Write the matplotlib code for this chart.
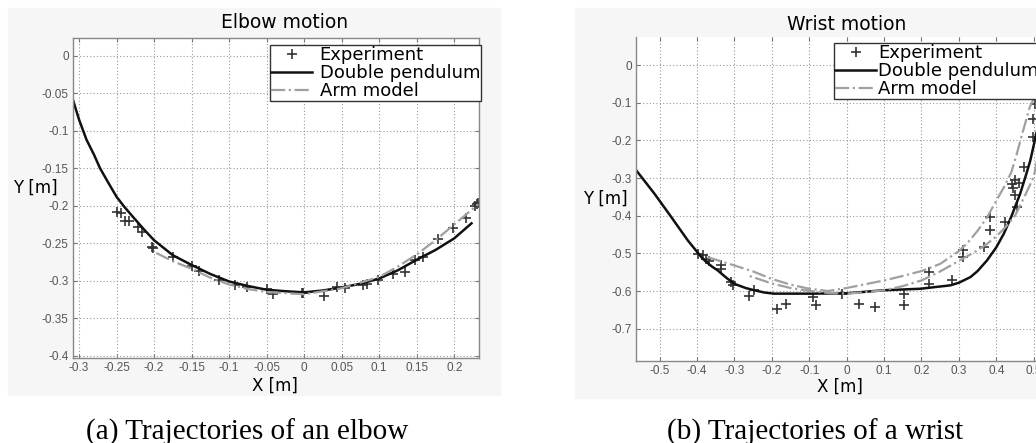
import numpy as np
import matplotlib.pyplot as plt
from matplotlib.patches import Rectangle

# --- Elbow data ---
elbow_pend_x = [-0.308, -0.300, -0.290, -0.280, -0.272, -0.260, -0.250, -0.240, -0.228, -0.214,
                -0.200, -0.175, -0.150, -0.125, -0.100, -0.075, -0.050, -0.025, 0.000, 0.025,
                0.050, 0.075, 0.100, 0.125, 0.150, 0.175, 0.200, 0.223]
elbow_pend_y = [-0.059, -0.085, -0.112, -0.132, -0.150, -0.171, -0.188, -0.201, -0.215, -0.231,
                -0.246, -0.266, -0.279, -0.291, -0.301, -0.307, -0.312, -0.314, -0.3155, -0.313,
                -0.309, -0.304, -0.297, -0.286, -0.272, -0.259, -0.2435, -0.2235]
elbow_arm_x = [-0.197, -0.175, -0.150, -0.125, -0.100, -0.075, -0.050, 0.000, 0.050, 0.100,
               0.125, 0.150, 0.175, 0.200, 0.232]
elbow_arm_y = [-0.263, -0.274, -0.284, -0.296, -0.305, -0.311, -0.315, -0.318, -0.310, -0.295,
               -0.281, -0.265, -0.246, -0.225, -0.198]
elbow_exp_x = [-0.250, -0.244, -0.239, -0.234, -0.221, -0.216, -0.203, -0.201, -0.175,
               -0.150, -0.140, -0.114, -0.092, -0.076, -0.050, -0.041, -0.003, -0.001,
               0.026, 0.044, 0.055, 0.079, 0.084, 0.099, 0.119, 0.135, 0.148, 0.159,
               0.179, 0.198, 0.216, 0.228, 0.231, 0.232]
elbow_exp_y = [-0.208, -0.210, -0.221, -0.221, -0.229, -0.235, -0.255, -0.257, -0.268,
               -0.281, -0.287, -0.299, -0.306, -0.308, -0.311, -0.318, -0.317, -0.316,
               -0.320, -0.309, -0.310, -0.306, -0.304, -0.299, -0.291, -0.288, -0.272,
               -0.269, -0.245, -0.230, -0.217, -0.201, -0.198, -0.196]

# --- Wrist data ---
wrist_pend_x = [-0.561, -0.514, -0.469, -0.425, -0.385, -0.360, -0.345, -0.320, -0.300, -0.270,
                -0.247, -0.220, -0.194, -0.096, 0.002, 0.099, 0.197, 0.277, 0.300, 0.331,
                0.350, 0.375, 0.400, 0.420, 0.440, 0.464, 0.480, 0.491, 0.507, 0.525]
wrist_pend_y = [-0.281, -0.341, -0.403, -0.465, -0.514, -0.535, -0.545, -0.566, -0.581, -0.592,
                -0.598, -0.604, -0.607, -0.607, -0.606, -0.598, -0.594, -0.585, -0.578, -0.563,
                -0.547, -0.519, -0.484, -0.448, -0.403, -0.341, -0.290, -0.253, -0.182, -0.110]
wrist_arm_x = [-0.372, -0.300, -0.250, -0.200, -0.150, -0.100, -0.050, 0.000, 0.050, 0.100,
               0.150, 0.200, 0.250, 0.300, 0.325, 0.350, 0.375, 0.400, 0.420, 0.440, 0.455,
               0.470, 0.490, 0.505, 0.520, 0.500, 0.475, 0.450, 0.425, 0.400, 0.375, 0.350,
               0.300, 0.250, 0.200, 0.150, 0.100, 0.050, 0.000, -0.050, -0.100, -0.150,
               -0.200, -0.260]
wrist_arm_y = [-0.510, -0.532, -0.548, -0.568, -0.583, -0.594, -0.600, -0.592, -0.582, -0.572,
               -0.560, -0.547, -0.528, -0.494, -0.470, -0.440, -0.405, -0.360, -0.325, -0.285,
               -0.235, -0.180, -0.110, -0.080, -0.200, -0.297, -0.350, -0.400, -0.430, -0.455,
               -0.475, -0.492, -0.520, -0.548, -0.572, -0.587, -0.598, -0.603, -0.607, -0.605,
               -0.600, -0.592, -0.580, -0.560]
wrist_exp_x = [-0.398, -0.385, -0.376, -0.367, -0.336, -0.336, -0.309, -0.305, -0.260,
               -0.247, -0.185, -0.163, -0.091, -0.083, -0.012, 0.033, 0.077, 0.153, 0.153,
               0.219, 0.219, 0.282, 0.311, 0.311, 0.366, 0.384, 0.384, 0.424, 0.442, 0.445,
               0.451, 0.451, 0.455, 0.460, 0.473, 0.499, 0.499, 0.504]
wrist_exp_y = [-0.501, -0.505, -0.514, -0.519, -0.532, -0.541, -0.576, -0.585, -0.612,
               -0.598, -0.647, -0.634, -0.616, -0.636, -0.607, -0.634, -0.643, -0.607, -0.638,
               -0.550, -0.581, -0.572, -0.492, -0.510, -0.483, -0.403, -0.439, -0.417, -0.315,
               -0.325, -0.306, -0.346, -0.377, -0.312, -0.270, -0.191, -0.142, -0.102]

elbow_xticks = [-0.3, -0.25, -0.2, -0.15, -0.1, -0.05, 0, 0.05, 0.1, 0.15, 0.2]
elbow_xlabels = ['-0.3', '-0.25', '-0.2', '-0.15', '-0.1', '-0.05', '0', '0.05', '0.1', '0.15', '0.2']
elbow_yticks = [0, -0.05, -0.1, -0.15, -0.2, -0.25, -0.3, -0.35, -0.4]
elbow_ylabels = ['0', '-0.05', '-0.1', '-0.15', '-0.2', '-0.25', '-0.3', '-0.35', '-0.4']
wrist_xticks = [-0.5, -0.4, -0.3, -0.2, -0.1, 0, 0.1, 0.2, 0.3, 0.4, 0.5]
wrist_xlabels = ['-0.5', '-0.4', '-0.3', '-0.2', '-0.1', '0', '0.1', '0.2', '0.3', '0.4', '0.5']
wrist_yticks = [0, -0.1, -0.2, -0.3, -0.4, -0.5, -0.6, -0.7]
wrist_ylabels = ['0', '-0.1', '-0.2', '-0.3', '-0.4', '-0.5', '-0.6', '-0.7']

W, H = 1036, 443
fig = plt.figure(figsize=(W / 100, H / 100), dpi=100)

# light panels behind each screenshot
fig.patches.append(Rectangle((8 / W, 1 - 395 / H), 492 / W, 387 / H, transform=fig.transFigure,
                             color='#f6f6f6', zorder=-10))
fig.patches.append(Rectangle((575 / W, 1 - 398 / H), 461 / W, 390 / H, transform=fig.transFigure,
                             color='#f6f6f6', zorder=-10))


def px_rect(x0, y0, x1, y1):
    return [x0 / W, 1 - y1 / H, (x1 - x0) / W, (y1 - y0) / H]


def style_axes(ax, xt, xl, yt, yl):
    ax.set_xticks(xt)
    ax.set_xticklabels(xl)
    ax.set_yticks(yt)
    ax.set_yticklabels(yl)
    ax.grid(True, linestyle=(0, (1, 2)), color='#999999', linewidth=0.8)
    ax.tick_params(direction='in', length=3, color='#777777', labelcolor='#555555',
                   labelsize=8.5, top=True, right=True, pad=3)
    for lab in ax.get_xticklabels() + ax.get_yticklabels():
        lab.set_fontfamily('Liberation Sans')
    for s in ax.spines.values():
        s.set_color('#888888')
        s.set_linewidth(1.0)


# ---- Elbow ----
ax1 = fig.add_axes(px_rect(73, 38, 479, 358))
ax1.set_facecolor('white')
ax1.plot(elbow_exp_x, elbow_exp_y, '+', color='#333333', ms=7, mew=1.2, label='Experiment')
ax1.plot(elbow_pend_x, elbow_pend_y, '-', color='#111111', lw=1.8, label='Double pendulum')
ax1.plot(elbow_arm_x, elbow_arm_y, '-.', color='#a0a0a0', lw=1.6, label='Arm model')
ax1.set_xlim(-0.308, 0.233)
ax1.set_ylim(-0.403, 0.0236)
style_axes(ax1, elbow_xticks, elbow_xlabels, elbow_yticks, elbow_ylabels)
leg1 = ax1.legend(loc='upper left', bbox_to_anchor=(270 / W, 1 - 45 / H),
                  bbox_transform=fig.transFigure, fontsize=13, fancybox=False,
                  framealpha=1, edgecolor='#333333', borderpad=0.05, labelspacing=0.0,
                  handlelength=2.3, handletextpad=0.4, borderaxespad=0)
leg1.get_frame().set_linewidth(1.0)

# ---- Wrist ----
ax2 = fig.add_axes(px_rect(636, 37, 1058, 361))
ax2.set_facecolor('white')
ax2.plot(wrist_exp_x, wrist_exp_y, '+', color='#333333', ms=7, mew=1.2, label='Experiment')
ax2.plot(wrist_pend_x, wrist_pend_y, '-', color='#111111', lw=1.8, label='Double pendulum')
ax2.plot(wrist_arm_x, wrist_arm_y, '-.', color='#a0a0a0', lw=1.6, label='Arm model')
ax2.set_xlim(-0.563, 0.565)
ax2.set_ylim(-0.786, 0.075)
style_axes(ax2, wrist_xticks, wrist_xlabels, wrist_yticks, wrist_ylabels)
ax2.spines['top'].set_visible(False)
leg2 = ax2.legend(loc='upper left', bbox_to_anchor=(834 / W, 1 - 43 / H),
                  bbox_transform=fig.transFigure, fontsize=13, fancybox=False,
                  framealpha=1, edgecolor='#333333', borderpad=0.05, labelspacing=0.0,
                  handlelength=2.3, handletextpad=0.1, borderaxespad=0)
leg2.get_frame().set_linewidth(1.0)

# titles, axis labels, captions
fig.text(285 / W, 1 - 23 / H, 'Elbow motion', ha='center', va='center', fontsize=13.5)
fig.text(847 / W, 1 - 24 / H, 'Wrist motion', ha='center', va='center', fontsize=13.5)
fig.text(35 / W, 1 - 188 / H, 'Y [m]', ha='center', va='center', fontsize=12)
fig.text(605 / W, 1 - 199 / H, 'Y [m]', ha='center', va='center', fontsize=12)
fig.text(275 / W, 1 - 386 / H, 'X [m]', ha='center', va='center', fontsize=12)
fig.text(840 / W, 1 - 387 / H, 'X [m]', ha='center', va='center', fontsize=12)
fig.text(247 / W, 3 / H, '(a) Trajectories of an elbow', ha='center', va='baseline',
         fontsize=21, family='Liberation Serif')
fig.text(815 / W, 3 / H, '(b) Trajectories of a wrist', ha='center', va='baseline',
         fontsize=21, family='Liberation Serif')

fig.savefig('out.png', dpi=100)
